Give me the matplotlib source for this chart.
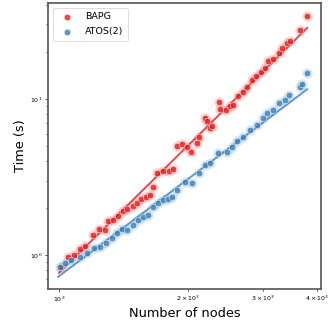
import numpy as np
import matplotlib
matplotlib.use("Agg")
import matplotlib.pyplot as plt

# ---- data ----
bapg_nodes = [1009, 1049, 1082, 1118, 1148, 1197, 1238, 1279, 1302, 1338, 1374, 1406,
              1442, 1484, 1516, 1550, 1595, 1629, 1653, 1689, 1751, 1808, 1848, 1881,
              1932, 1985, 2032, 2096, 2126, 2191, 2219, 2251, 2275, 2367, 2375, 2453,
              2507, 2552, 2622, 2694, 2753, 2818, 2884, 2957, 3027, 3082, 3166, 3270,
              3311, 3401, 3462, 3655, 3802]
bapg_time = [0.846, 0.98, 1.005, 1.092, 1.147, 1.343, 1.467, 1.453, 1.666, 1.683, 1.785,
             1.931, 1.969, 2.068, 2.151, 2.282, 2.373, 2.444, 2.723, 3.346, 3.48, 3.446,
             3.567, 5.007, 5.157, 4.958, 4.605, 5.207, 5.689, 7.52, 7.27, 6.494, 6.722,
             9.619, 8.594, 8.509, 9.024, 9.157, 10.46, 11.09, 11.88, 13.24, 14.04, 14.97,
             15.72, 17.6, 18.13, 19.61, 21.1, 22.72, 23.63, 27.66, 34.16]

atos_nodes = [1004, 1031, 1065, 1118, 1159, 1205, 1245, 1286, 1326, 1362, 1399, 1437,
              1490, 1530, 1572, 1615, 1659, 1705, 1751, 1798, 1831, 1881, 1967, 2039,
              2126, 2191, 2251, 2354, 2462, 2529, 2608, 2694, 2792, 2894, 3000, 3054,
              3166, 3270, 3371, 3451, 3655, 3687, 3802]
atos_time = [0.846, 0.889, 0.934, 0.98, 1.04, 1.109, 1.136, 1.193, 1.285, 1.396, 1.474,
             1.453, 1.564, 1.683, 1.768, 1.811, 2.048, 2.151, 2.26, 2.282, 2.373, 2.618,
             2.96, 2.917, 3.346, 3.784, 3.878, 4.494, 4.605, 4.958, 5.39, 5.689, 6.337,
             6.822, 7.52, 8.1, 8.509, 9.387, 9.86, 10.61, 12.0, 12.48, 14.6]

# power-law fits (time at 1000 nodes, exponent)
bapg_fit = (0.774, 2.70)
atos_fit = (0.737, 2.06)

labels = ["BAPG", "ATOS(2)"]
colors = ["#e41a1c", "#377eb8"]

fig = plt.figure(figsize=(3.34, 3.2), dpi=100)
ax = fig.add_axes([0.1437, 0.0969, 0.8173, 0.8937])

series = [(bapg_nodes, bapg_time, bapg_fit), (atos_nodes, atos_time, atos_fit)]
for (xs, ys, fit), lab, col in zip(series, labels, colors):
    xs = np.array(xs, float)
    ys = np.array(ys, float)
    # faint halo
    ax.scatter(xs, ys, s=55, color=col, alpha=0.18, linewidths=0, zorder=2)
    ax.scatter(xs, ys, s=22, color=col, alpha=0.8, edgecolors="white",
               linewidths=0.4, zorder=3, label=lab)
    xl = np.array([xs.min() * 0.99, xs.max()])
    ax.plot(xl, fit[0] * (xl / 1000.0) ** fit[1], color=col, lw=1.4, alpha=0.8, zorder=2)

ax.set_xscale("log")
ax.set_yscale("log")
ax.set_xlim(941, 4093)
ax.set_ylim(0.608, 41.1)

ax.set_xlabel("Number of nodes", fontsize=9.3, labelpad=2)
ax.set_ylabel("Time (s)", fontsize=9.3, labelpad=2)
ax.tick_params(which="both", labelsize=4.5, length=2.5, width=0.6, pad=1.5, color="#333333")
ax.tick_params(which="minor", length=1.6)
for sp in ax.spines.values():
    sp.set_linewidth(1.2)
    sp.set_color("#555555")

leg = ax.legend(loc="upper left", fontsize=6.8, frameon=True, borderpad=0.5,
                handletextpad=0.9, labelspacing=0.6, markerscale=1.0,
                bbox_to_anchor=(0.0, 1.0), borderaxespad=0.5)
leg.get_frame().set_edgecolor("#cccccc")
leg.get_frame().set_linewidth(0.6)

fig.savefig("out.png", dpi=100)
